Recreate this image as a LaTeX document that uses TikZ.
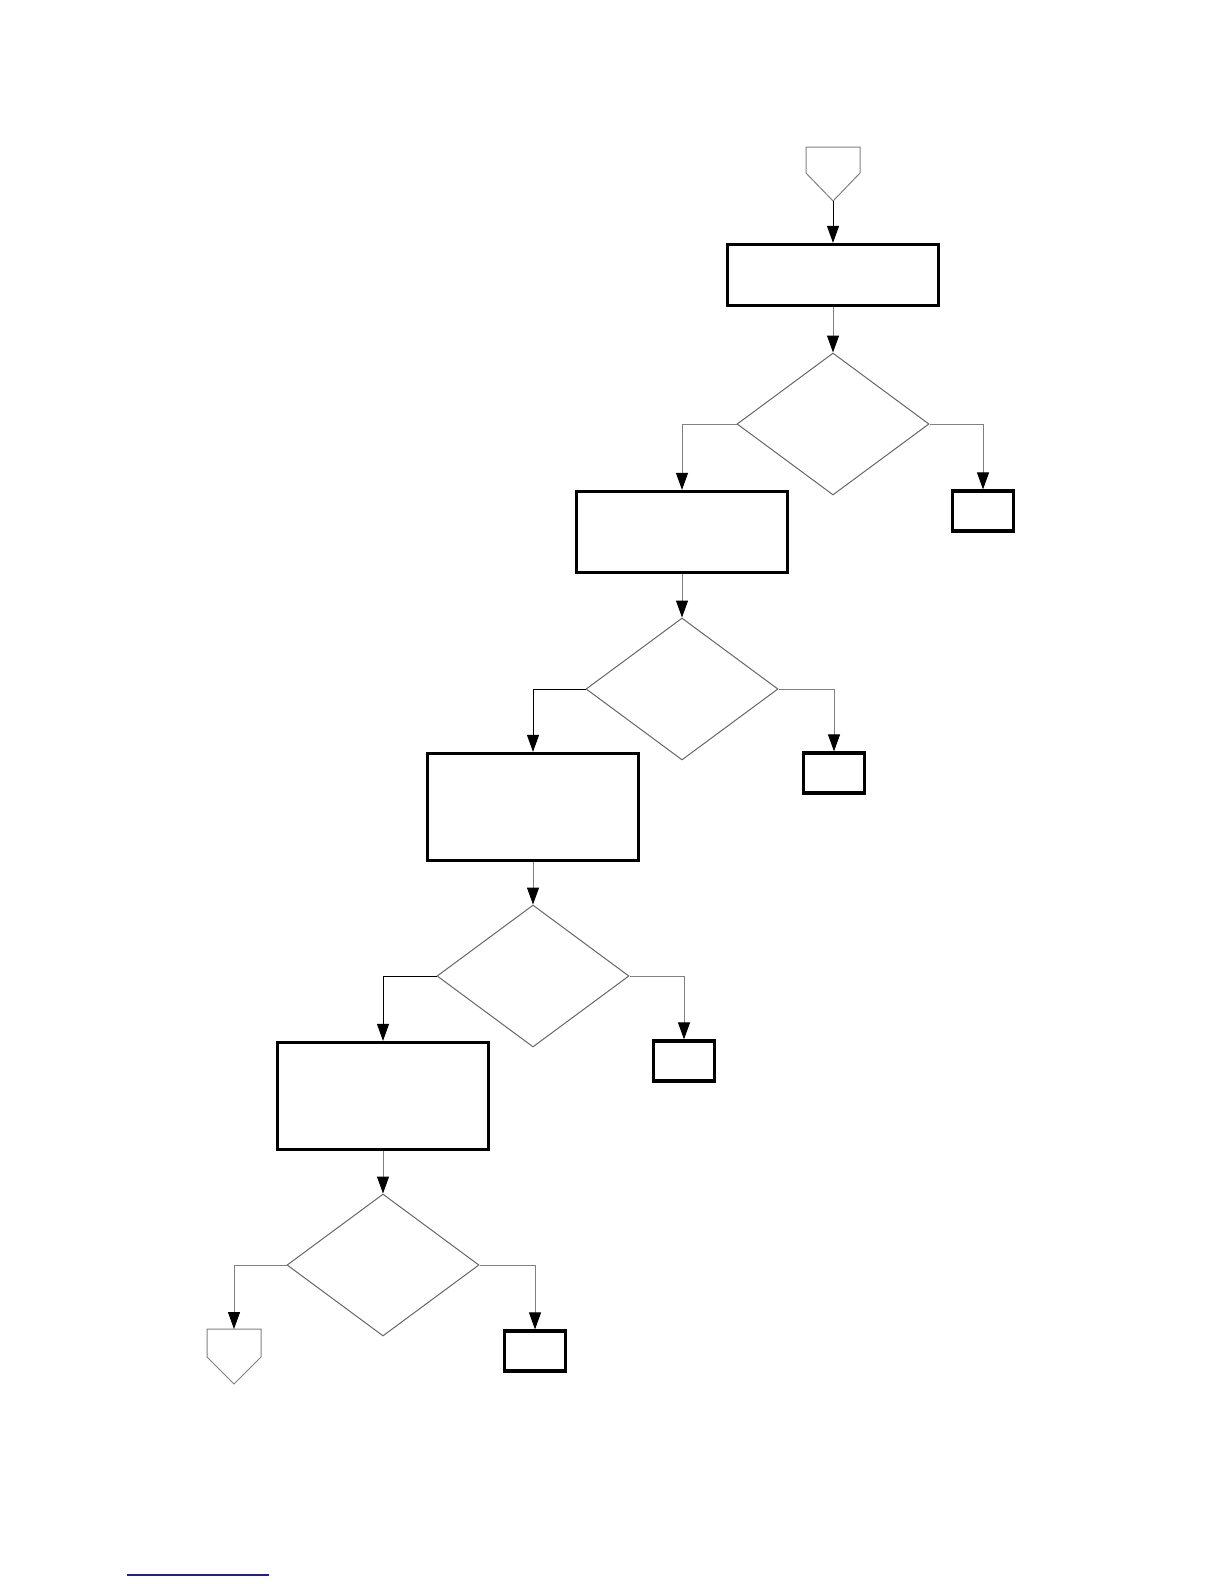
\documentclass[tikz,border=0pt]{standalone}
\usepackage{tikz}
\usetikzlibrary{arrows.meta,shapes.geometric}
\definecolor{rulecol}{RGB}{30,30,150}
\tikzset{
  procbox/.style={draw,line width=1.6pt,inner sep=0pt,minimum width=105.5pt},
  endbox/.style={draw,line width=1.6pt,inner sep=0pt,minimum width=30.5pt,minimum height=20pt},
  decide/.style={draw=gray!80!black,line width=0.5pt,diamond,inner sep=0pt,
                 minimum width=96pt,minimum height=71pt},
  flow/.style={draw=gray,line width=0.5pt,-{Triangle[length=8.5pt,width=6pt,black]}},
  offpage/.style={draw=gray,line width=0.5pt}
}
\begin{document}
\begin{tikzpicture}[x=0.5pt,y=-0.5pt]
  \useasboundingbox (0,0) rectangle (1224,1584);
  % off-page connector at the top
  \draw[offpage] (806,147) -- (860,147) -- (860,173) -- (833,201) -- (806,173) -- cycle;
  \coordinate (in1) at (833,201);
  % process boxes and decisions
  \node[procbox,minimum height=30.5pt] (box1) at (833,275) {};
  \node[decide] (d1) at (833,424) {};
  \node[procbox,minimum height=40.5pt] (box2) at (682,532) {};
  \node[endbox] (sb1) at (983,511) {};
  \node[decide] (d2) at (682,689) {};
  \node[procbox,minimum height=53.5pt] (box3) at (533,807) {};
  \node[endbox] (sb2) at (834,773) {};
  \node[decide] (d3) at (533,976) {};
  \node[procbox,minimum height=53.5pt] (box4) at (383,1096) {};
  \node[endbox] (sb3) at (684,1061) {};
  \node[decide] (d4) at (383,1265) {};
  \node[endbox] (sb4) at (535,1351) {};
  % off-page connector at the bottom
  \draw[offpage] (207,1329) -- (261,1329) -- (261,1357) -- (234,1384) -- (207,1357) -- cycle;
  \coordinate (out1) at (234,1329);
  % connectors
  \draw[flow,draw=black] (in1) -- (box1.north);
  \draw[flow] (box1.south) -- (d1.north);
  \draw[flow] (d1.west) -| (box2.north);
  \draw[flow] (d1.east) -| (sb1.north);
  \draw[flow] (box2.south) -- (d2.north);
  \draw[flow,draw=black] (d2.west) -| (box3.north);
  \draw[flow] (d2.east) -| (sb2.north);
  \draw[flow] (box3.south) -- (d3.north);
  \draw[flow,draw=black] (d3.west) -| (box4.north);
  \draw[flow] (d3.east) -| (sb3.north);
  \draw[flow] (box4.south) -- (d4.north);
  \draw[flow] (d4.west) -| (out1);
  \draw[flow] (d4.east) -| (sb4.north);
  % footnote rule
  \draw[rulecol,line width=0.7pt] (127,1575) -- (269,1575);
\end{tikzpicture}
\end{document}
